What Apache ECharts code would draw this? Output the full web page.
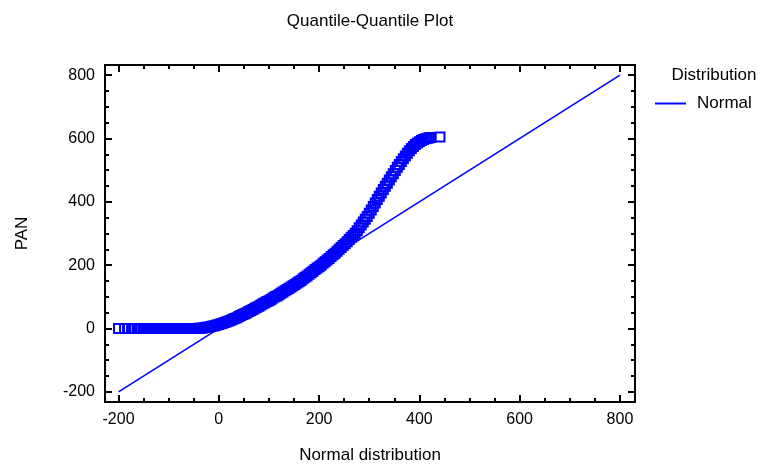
<!DOCTYPE html>
<html>
<head>
<meta charset="utf-8">
<script src="https://cdn.jsdelivr.net/npm/echarts@6/dist/echarts.min.js"></script>
<style>html,body{margin:0;padding:0;background:#fff}#c{width:762px;height:465px}</style>
</head>
<body>
<div id="c"></div>
<script>
// Theoretical normal quantiles (x) and observed PAN values (y)
const qx = [-200,-188,-180,-174,-168,-163,-159,-155,-151,
  -148,-144,-140,-136,-132,-128,-124,-120,-116,-112,-108,-104,-100,-96,-92,-88,-84,-80,-76,-72,-68,-64,-60,-56,-52,
  -48,-44,-40,-36,-32,-28,-24,-20,-16,-12,-8,-4,0,4,8,12,16,20,24,28,32,36,40,44,48,52,56,60,64,68,72,76,80,84,88,92,96,100,
  104,108,112,116,120,124,128,132,136,140,144,148,152,156,160,164,168,172,176,180,184,188,192,196,200,
  204,208,212,216,220,224,228,232,236,240,244,248,252,256,260,264,268,272,276,
  280,284,288,292,296,300,304,308,312,316,320,324,328,332,336,340,344,348,352,356,360,364,368,372,376,380,384,388,392,396,400,404,408,412,416,420,423,441];
const qy = [0,0,0,0,0,0,0,0,0,
  0,0,0,0,0,0,0,0,0,0,0,0,0,0,0,0,0,0,0,0,0,0,0,0,0,
  0,0,1,1,2,3,4,5,6,8,9,11,13,15,17,19,21,24,26,29,32,34,38,41,44,47,50,54,57,60,64,67,70,74,78,81,85,88,
  92,96,100,103,107,111,115,119,123,127,131,135,139,144,148,152,157,162,166,171,176,181,186,191,195,
  200,206,211,216,221,227,233,238,244,250,256,262,268,274,281,288,294,301,309,
  318,327,336,345,354,364,374,385,396,407,418,428,439,449,459,469,479,489,499,509,518,527,536,545,553,561,568,575,581,586,590,594,597,599,601,602,603,605];
// Reference line for the fitted normal distribution
const lineX = [-200, 800];
const lineY = [-200, 800];
// Axis ticks
const xMajor = [-200, 0, 200, 400, 600, 800];
const xMinor = [-150,-100,-50,50,100,150,250,300,350,450,500,550,650,700,750];
const yMajor = [-200, 0, 200, 400, 600, 800];
const yMinor = [-150,-100,-50,50,100,150,250,300,350,450,500,550,650,700,750];
const seriesName = 'Normal';
const legendTitle = 'Distribution';
const chartTitle = 'Quantile-Quantile Plot';

const FONT = '"Liberation Sans", Arial, sans-serif';
const X_MIN = -227, X_MAX = 830, Y_MIN = -232, Y_MAX = 832;

function xAx(pos, ticks, len, labels, name) {
  return {
    type: 'value', position: pos, min: X_MIN, max: X_MAX,
    splitLine: {show: false},
    axisLine: {show: true, onZero: false, lineStyle: {color: '#000', width: 2}},
    axisTick: {show: true, inside: true, length: len, customValues: ticks, lineStyle: {color: '#000', width: 2}},
    axisLabel: labels ? {show: true, customValues: ticks, fontFamily: FONT, fontSize: 16, color: '#000', margin: 10} : {show: false},
    name: name || '', nameLocation: 'middle', nameGap: 45,
    nameTextStyle: {fontFamily: FONT, fontSize: 17, color: '#000'}
  };
}
function yAx(pos, ticks, len, labels, name) {
  return {
    type: 'value', position: pos, min: Y_MIN, max: Y_MAX,
    splitLine: {show: false},
    axisLine: {show: true, onZero: false, lineStyle: {color: '#000', width: 2}},
    axisTick: {show: true, inside: true, length: len, customValues: ticks, lineStyle: {color: '#000', width: 2}},
    axisLabel: labels ? {show: true, customValues: ticks, fontFamily: FONT, fontSize: 16, color: '#000', margin: 10} : {show: false},
    name: name || '', nameLocation: 'middle', nameGap: 74, nameRotate: 90,
    nameTextStyle: {fontFamily: FONT, fontSize: 17, color: '#000'}
  };
}

const chart = echarts.init(document.getElementById('c'), null, {renderer: 'canvas'});
chart.setOption({
  animation: false,
  backgroundColor: '#fff',
  grid: {left: 105, right: 127, top: 65, bottom: 63, containLabel: false, outerBoundsMode: 'none'},
  xAxis: [
    xAx('bottom', xMajor, 7, true, 'Normal distribution'),
    xAx('bottom', xMinor, 4, false),
    xAx('top', xMajor, 7, false),
    xAx('top', xMinor, 4, false)
  ],
  yAxis: [
    yAx('left', yMajor, 7, true, 'PAN'),
    yAx('left', yMinor, 4, false),
    yAx('right', yMajor, 7, false),
    yAx('right', yMinor, 4, false)
  ],
  legend: {
    data: [seriesName], left: 655, top: 95, padding: 0,
    icon: 'rect', itemWidth: 31, itemHeight: 2, itemGap: 0,
    textStyle: {fontFamily: FONT, fontSize: 17, color: '#000', padding: [0, 0, 0, 6]}
  },
  graphic: [
    {type: 'text', x: 370, y: 21, style: {text: chartTitle, font: '17px ' + FONT, fill: '#000', textAlign: 'center', textVerticalAlign: 'middle'}},
    {type: 'text', x: 714, y: 75, style: {text: legendTitle, font: '17px ' + FONT, fill: '#000', textAlign: 'center', textVerticalAlign: 'middle'}}
  ],
  series: [
    {
      name: 'PAN', type: 'scatter', xAxisIndex: 0, yAxisIndex: 0,
      symbol: 'rect', symbolSize: 9,
      itemStyle: {color: 'rgba(0,0,0,0)', borderColor: '#0000ff', borderWidth: 2, opacity: 1},
      data: qx.map((v, i) => [v, qy[i]]),
      z: 3
    },
    {
      name: seriesName, type: 'line', xAxisIndex: 0, yAxisIndex: 0,
      symbol: 'none', showSymbol: false,
      lineStyle: {color: '#0000ff', width: 1.6},
      itemStyle: {color: '#0000ff'},
      data: lineX.map((v, i) => [v, lineY[i]]),
      z: 2
    }
  ]
});
</script>
</body>
</html>
